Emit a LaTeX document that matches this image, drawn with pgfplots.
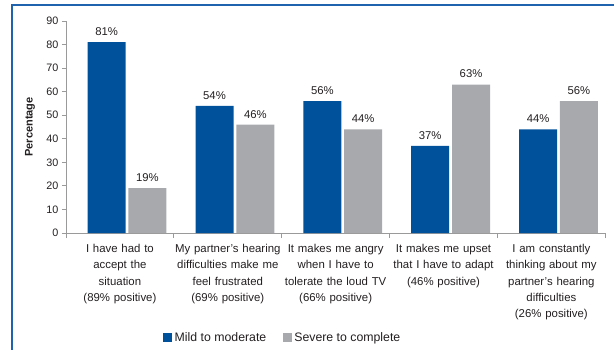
\documentclass[border=0pt]{standalone}
\usepackage{fontspec}
\setmainfont{Liberation Sans}
\usepackage{pgfplots}
\pgfplotsset{compat=1.18}
\definecolor{barblue}{HTML}{00519B}
\definecolor{bargray}{HTML}{A7A9AC}
\definecolor{frameblue}{HTML}{1F62AE}
\definecolor{axisgray}{HTML}{9A9A9A}
\definecolor{txt}{HTML}{231F20}
\begin{document}
\begin{tikzpicture}
\useasboundingbox (0pt,0pt) rectangle (614pt,349pt);
\draw[frameblue, line width=1.4pt] (12pt,-1pt) -- (12pt,344pt) -- (616pt,344pt);
\begin{axis}[
  at={(66pt,116pt)}, anchor=south west,
  scale only axis, width=539.3pt, height=212pt,
  xmin=0, xmax=5, ymin=0, ymax=90,
  axis x line*=bottom, axis y line*=left,
  axis line style={axisgray, line width=0.8pt},
  ytick={0,10,...,90},
  xtick={0.5,1.5,2.5,3.5,4.5},
  xticklabels={
    {I have had to\\accept the\\situation\\(89\% positive)},
    {My partner’s hearing\\difficulties make me\\feel frustrated\\(69\% positive)},
    {It makes me angry\\when I have to\\tolerate the loud TV\\(66\% positive)},
    {It makes me upset\\that I have to adapt\\(46\% positive)},
    {I am constantly\\thinking about my\\partner’s hearing\\difficulties\\(26\% positive)}},
  minor xtick={0,1,2,3,4,5},
  tick align=outside,
  major tick length=4pt, minor tick length=5pt,
  x tick style={draw=none},
  minor x tick style={draw=axisgray, line width=0.8pt},
  y tick style={draw=axisgray, line width=0.8pt},
  xticklabel style={text width=118pt, align=center, font=\fontsize{11.4}{16.2}\selectfont, text=txt, yshift=-4pt},
  yticklabel style={font=\fontsize{10.8}{12}\selectfont, text=txt},
  /pgf/number format/assume math mode=true,
  ylabel={\textbf{Percentage}},
  ylabel style={at={(axis description cs:-0.0668,0.5)}, anchor=center, font=\fontsize{11}{13}\selectfont, text=txt},
  nodes near coords={\pgfmathprintnumber{\pgfplotspointmeta}\%},
  nodes near coords style={font=\fontsize{11.3}{13}\selectfont, text=txt, yshift=3pt},
  legend columns=2,
  legend style={at={(0.1743,-0.495)}, anchor=west, draw=none, fill=none,
    font=\fontsize{12.3}{14}\selectfont, text=txt,
    /tikz/every even column/.append style={column sep=14pt},
    nodes={inner sep=2.5pt}},
]
\addplot[ybar, bar width=38pt, bar shift=-20.4pt, fill=barblue, draw=none,
  every node near coord/.append style={xshift=-20.4pt},
  legend image code/.code={\fill[barblue] (0pt,-4.5pt) rectangle (9pt,4.5pt);}]
  coordinates {(0.566,81) (1.566,54) (2.566,56) (3.566,37) (4.566,44)};
\addlegendentry{Mild to moderate}
\addplot[ybar, bar width=38pt, bar shift=20.4pt, fill=bargray, draw=none,
  every node near coord/.append style={xshift=20.4pt},
  legend image code/.code={\fill[bargray] (0pt,-4.5pt) rectangle (9pt,4.5pt);}]
  coordinates {(0.566,19) (1.566,46) (2.566,44) (3.566,63) (4.566,56)};
\addlegendentry{Severe to complete}
\end{axis}
\end{tikzpicture}
\end{document}
